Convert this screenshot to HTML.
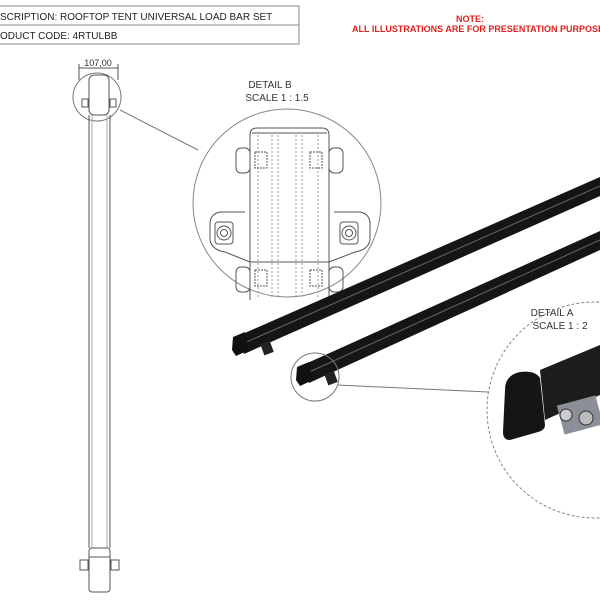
<!DOCTYPE html>
<html><head><style>
html,body{margin:0;padding:0;background:#fff;}
svg{display:block;font-family:"Liberation Sans",sans-serif;}
</style></head><body>
<svg width="600" height="600" viewBox="0 0 600 600" xmlns="http://www.w3.org/2000/svg">
<rect width="600" height="600" fill="#fff"/>
<g stroke="#888" fill="none" stroke-width="1">
<rect x="-2" y="6" width="301" height="38"/>
<line x1="-2" y1="25" x2="299" y2="25"/>
</g>
<text x="0" y="20" font-size="10" fill="#222">SCRIPTION: ROOFTOP TENT UNIVERSAL LOAD BAR SET</text>
<text x="0" y="39" font-size="10" fill="#222">ODUCT CODE: 4RTULBB</text>
<text x="470" y="22" font-size="9" font-weight="bold" fill="#e0201c" text-anchor="middle">NOTE:</text>
<text x="352" y="32" font-size="9" font-weight="bold" fill="#e0201c">ALL ILLUSTRATIONS ARE FOR PRESENTATION PURPOSE</text>
<g stroke="#555" fill="none" stroke-width="1">
<text x="98" y="66" font-size="9" fill="#333" stroke="none" text-anchor="middle">107,00</text>
<line x1="79" y1="68" x2="118" y2="68"/>
<line x1="79" y1="64" x2="79" y2="80"/><line x1="118" y1="64" x2="118" y2="80"/>
<circle cx="97" cy="97" r="24" stroke="#777"/>
<line x1="120" y1="110" x2="198" y2="150" stroke="#777"/>
<rect x="89" y="75" width="20" height="40" rx="5"/>
<rect x="82" y="99" width="6" height="8"/><rect x="110" y="99" width="6" height="8"/>
<line x1="89" y1="115" x2="89" y2="548"/><line x1="110" y1="115" x2="110" y2="548"/>
<line x1="92" y1="115" x2="92" y2="548" stroke="#aaa"/><line x1="107" y1="115" x2="107" y2="548" stroke="#aaa"/>
<rect x="89" y="548" width="21" height="44" rx="3"/>
<rect x="80" y="560" width="8" height="10"/><rect x="111" y="560" width="8" height="10"/>
<line x1="89" y1="557" x2="110" y2="557"/>
</g>
<text x="270" y="88" font-size="10" fill="#333" text-anchor="middle">DETAIL B</text>
<text x="277" y="101" font-size="10" fill="#333" text-anchor="middle">SCALE 1 : 1.5</text>
<g stroke="#555" fill="none" stroke-width="1">
<circle cx="287" cy="203" r="94" stroke="#888"/>
<path d="M250 300 V135 Q250 128 257 128 H322 Q329 128 329 135 V300"/>
<line x1="252" y1="133" x2="327" y2="133"/>
<g stroke="#999" stroke-dasharray="2,2">
<line x1="258" y1="135" x2="258" y2="298"/><line x1="272" y1="135" x2="272" y2="298"/>
<line x1="278" y1="135" x2="278" y2="298"/><line x1="296" y1="135" x2="296" y2="298"/>
<line x1="302" y1="135" x2="302" y2="298"/><line x1="318" y1="135" x2="318" y2="298"/>
</g>
<rect x="236" y="148" width="14" height="25" rx="5"/><rect x="329" y="148" width="14" height="25" rx="5"/>
<rect x="236" y="267" width="14" height="25" rx="5"/><rect x="329" y="267" width="14" height="25" rx="5"/>
<rect x="255" y="152" width="12" height="16" stroke-dasharray="2,1"/><rect x="310" y="152" width="12" height="16" stroke-dasharray="2,1"/>
<rect x="255" y="270" width="12" height="16" stroke-dasharray="2,1"/><rect x="310" y="270" width="12" height="16" stroke-dasharray="2,1"/>
<path d="M245 212 H220 Q210 214 210 224 V240 Q212 250 225 252 L250 262"/>
<path d="M334 212 H360 Q370 214 370 224 V240 Q368 250 355 252 L329 262"/>
<rect x="215" y="222" width="18" height="22" rx="3"/><circle cx="224" cy="233" r="7"/><circle cx="224" cy="233" r="3.5"/>
<rect x="340" y="222" width="18" height="22" rx="3"/><circle cx="349" cy="233" r="7"/><circle cx="349" cy="233" r="3.5"/>
<line x1="250" y1="262" x2="329" y2="262"/>
</g>
<g>
<polygon points="238,336 600,177 600,196 244,354" fill="#151515"/>
<line x1="242" y1="344" x2="600" y2="186" stroke="#666" stroke-width="1"/>
<path d="M233 337 L245 332 L249 350 L236 356 L232 350 Z" fill="#111"/>
<rect x="262" y="342" width="10" height="12" fill="#222" transform="rotate(-20 267 348)"/>
<polygon points="303,365 600,231 600,250 309,383" fill="#151515"/>
<line x1="307" y1="373" x2="600" y2="240" stroke="#666" stroke-width="1"/>
<path d="M297 367 L309 362 L313 380 L300 386 L296 380 Z" fill="#111"/>
<rect x="326" y="372" width="10" height="12" fill="#222" transform="rotate(-20 331 378)"/>
</g>
<circle cx="315" cy="377" r="24" fill="none" stroke="#777"/>
<line x1="337" y1="385" x2="488" y2="392" stroke="#777"/>
<text x="552" y="316" font-size="10" fill="#333" text-anchor="middle">DETAIL A</text>
<text x="560" y="329" font-size="10" fill="#333" text-anchor="middle">SCALE 1 : 2</text>
<circle cx="595" cy="410" r="108" fill="none" stroke="#888" stroke-dasharray="3,2"/>
<polygon points="540,370 600,345 600,395 545,420" fill="#1c1c1c"/>
<path d="M505 390 Q505 375 520 372 Q535 370 540 378 L545 425 Q545 430 538 432 L510 440 Q503 440 503 432 Z" fill="#151515"/>
<rect x="560" y="400" width="40" height="30" fill="#8a8f98" transform="rotate(-15 580 415)"/>
<circle cx="566" cy="415" r="6" fill="#ccc" stroke="#333"/>
<circle cx="586" cy="418" r="7" fill="#bbb" stroke="#333"/>
</svg>
</body></html>
